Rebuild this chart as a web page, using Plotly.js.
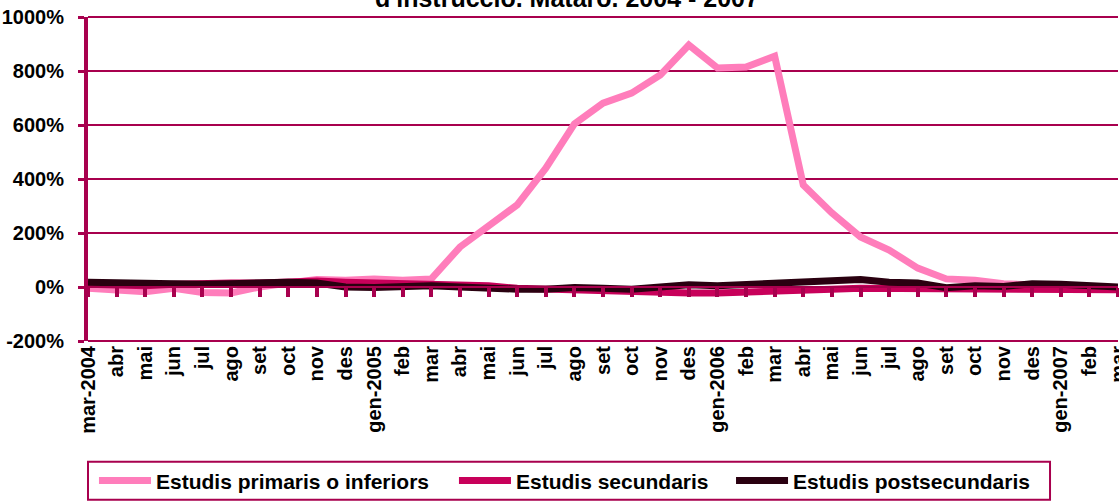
<!DOCTYPE html>
<html>
<head>
<meta charset="utf-8">
<script src="https://cdn.plot.ly/plotly-3.0.1.min.js"></script>
<style>html,body{margin:0;padding:0;background:#fff;}#chart{width:1119px;height:503px;}</style>
</head>
<body>
<div id="chart"></div>
<script>
const months = ["mar-2004","abr","mai","jun","jul","ago","set","oct","nov","des",
  "gen-2005","feb","mar","abr","mai","jun","jul","ago","set","oct","nov","des",
  "gen-2006","feb","mar","abr","mai","jun","jul","ago","set","oct","nov","des",
  "gen-2007","feb","mar"];
const primaris = [-5,-12,-18,-5,-20,-22,0,15,28,25,
  30,25,30,148,230,304,440,604,681,718,785,896,
  811,815,855,378,274,185,137,70,30,25,12,8,
  10,0,-5];
const secundaris = [10,8,5,10,15,15,15,20,22,18,
  15,15,15,10,5,-5,-8,-12,-18,-22,-25,-22,
  -22,-20,-15,-15,-8,-5,-5,-5,-8,-5,-5,-5,
  -5,-8,-10];
const postsecundaris = [18,15,14,8,10,12,18,18,15,0,
  -2,0,5,0,-5,-8,-8,-2,-5,-8,0,8,
  5,10,12,22,25,28,18,15,-3,5,2,12,
  10,5,0];
const seriesNames = ["Estudis primaris o inferiors","Estudis secundaris","Estudis postsecundaris"];
const yTicks = [-200,0,200,400,600,800,1000];
const titleText = "d'instrucció. Mataró. 2004 - 2007";

const idx = months.map((_, i) => i);
const axisColor = "#A8004E";
const colors = ["#FF7DBB","#C8005A","#2A0010"];
const fontFam = "Liberation Sans, Arial, sans-serif";

const data = [primaris, secundaris, postsecundaris].map((vals, k) => ({
  x: idx, y: vals, type: "scatter", mode: "lines", name: seriesNames[k],
  xaxis: k === 2 ? "x2" : "x",
  line: {color: colors[k], width: 7},
  legend: k === 0 ? "legend" : (k === 1 ? "legend2" : "legend3")
}));

const legBase = {orientation: "h", yanchor: "middle", y: -0.432, xanchor: "left",
  bgcolor: "rgba(0,0,0,0)", borderwidth: 0, itemwidth: 52,
  font: {family: fontFam, size: 21, color: "#000", weight: "bold"}};

const layout = {
  width: 1119, height: 503,
  margin: {l: 88, r: 1, t: 17, b: 162},
  paper_bgcolor: "#fff", plot_bgcolor: "#fff",
  showlegend: true,
  font: {family: fontFam, color: "#000"},
  xaxis: {
    range: [0, 36], tickvals: idx, ticktext: months, tickangle: -90,
    showgrid: false, zeroline: false, showline: false, ticks: "",
    ticklabeloverflow: "allow",
    tickfont: {family: fontFam, size: 20, color: "#000", weight: "bold"},
    fixedrange: true
  },
  xaxis2: {
    overlaying: "x", anchor: "free", position: 200 / 1200, side: "bottom",
    range: [0, 36], tickvals: idx, showticklabels: false,
    ticks: "outside", ticklen: 9, tickwidth: 4, tickcolor: axisColor,
    showline: true, linecolor: axisColor, linewidth: 2,
    showgrid: false, zeroline: false, fixedrange: true
  },
  yaxis: {
    range: [-200, 1000], tickvals: yTicks, ticktext: yTicks.map(v => v + "%"),
    showgrid: true, gridcolor: axisColor, gridwidth: 2,
    zeroline: false, showline: true, linecolor: axisColor, linewidth: 4,
    ticks: "outside", ticklen: 6, tickwidth: 3, tickcolor: axisColor,
    ticklabelstandoff: 10,
    tickfont: {family: fontFam, size: 20, color: "#000", weight: "bold"},
    fixedrange: true
  },
  legend: Object.assign({}, legBase, {x: 0.0058}),
  legend2: Object.assign({}, legBase, {x: 0.3553}),
  legend3: Object.assign({}, legBase, {x: 0.6243}),
  shapes: [
    {type: "rect", xref: "paper", yref: "paper", x0: 0, x1: 0.934, y0: -0.373, y1: -0.49,
     line: {color: axisColor, width: 2}, fillcolor: "rgba(0,0,0,0)", layer: "below"},
    {type: "line", xref: "paper", yref: "paper", x0: 0, x1: 1, y0: 1, y1: 1,
     line: {color: axisColor, width: 2}},
    {type: "line", xref: "paper", yref: "paper", x0: 0, x1: 1, y0: 0, y1: 0,
     line: {color: axisColor, width: 2}}
  ],
  annotations: [
    {text: titleText, xref: "paper", yref: "paper", x: 0.465, y: 1.009,
     xanchor: "center", yanchor: "bottom", showarrow: false,
     font: {family: fontFam, size: 25, color: "#000", weight: "bold"}}
  ]
};

Plotly.newPlot("chart", data, layout, {displayModeBar: false, staticPlot: true});
</script>
</body>
</html>
